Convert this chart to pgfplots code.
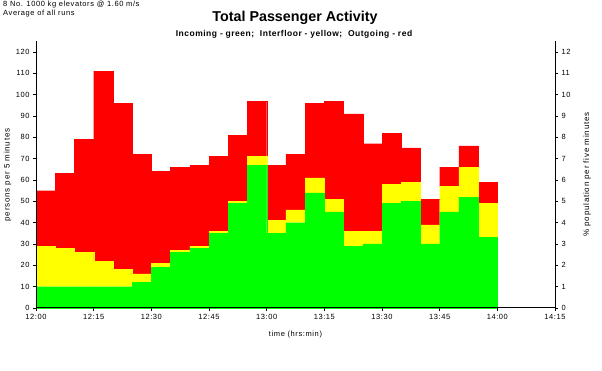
\documentclass[border=0pt]{standalone}
\usepackage{pgfplots}
\pgfplotsset{compat=1.18}
\usepackage{pgfplotstable}
\usepackage{fontspec}
\setmainfont{Liberation Sans}
\newfontfamily\wa[LetterSpace=8]{Liberation Sans}
\newfontfamily\wb[LetterSpace=10]{Liberation Sans}
\newfontfamily\wc[LetterSpace=6]{Liberation Sans}
\definecolor{cgreen}{RGB}{0,255,0}
\definecolor{cyellow}{RGB}{255,255,0}
\definecolor{cred}{RGB}{255,0,0}
\pgfplotstableread{
x g y r
2.5 10 19 26
7.5 10 18 35
12.5 10 16 53
17.5 10 12 89
22.5 10 8 78
27.5 12 4 56
32.5 19 2 43
37.5 26 1 39
42.5 28 1 38
47.5 35 1 35
52.5 49 1 31
57.5 67 4 26
62.5 35 6 26
67.5 40 6 26
72.5 54 7 35
77.5 45 6 46
82.5 29 7 55
87.5 30 6 41
92.5 49 9 24
97.5 50 9 16
102.5 30 9 12
107.5 45 12 9
112.5 52 14 10
117.5 33 16 10
}\data
\begin{document}
\begin{tikzpicture}
\path[use as bounding box] (0,0) rectangle (602pt,371pt);
\begin{axis}[
  at={(36pt,63pt)}, anchor=south west,
  scale only axis, width=519pt, height=266.7pt,
  xmin=0, xmax=135, ymin=0, ymax=125,
  axis x line*=bottom, axis y line*=left,
  axis on top,
  axis line style={-, line width=1pt},
  tick align=outside, major tick length=3pt,
  tick style={black, line width=0.6pt},
  xtick={0,15,...,135},
  xticklabels={12:00,12:15,12:30,12:45,13:00,13:15,13:30,13:45,14:00,14:15},
  ytick={0,10,...,120},
  tick label style={font=\wa\fontsize{7.5}{8}\selectfont},
  /pgf/number format/assume math mode=true,
  ybar stacked, bar width=5, bar shift=0pt,
  clip=false,
]
\addplot[fill=cgreen, draw=cgreen, line width=0.2pt] table[x=x,y=g]{\data};
\addplot[fill=cyellow, draw=cyellow, line width=0.2pt] table[x=x,y=y]{\data};
\addplot[fill=cred, draw=cred, line width=0.2pt] table[x=x,y=r]{\data};
\end{axis}
\begin{axis}[
  at={(36pt,63pt)}, anchor=south west,
  scale only axis, width=519pt, height=266.7pt,
  xmin=0, xmax=135, ymin=0, ymax=12.5,
  hide x axis,
  axis y line*=right,
  axis line style={-, line width=1pt},
  tick align=outside, major tick length=3pt,
  tick style={black, line width=0.6pt},
  ytick={0,1,...,12},
  tick label style={font=\wa\fontsize{7.5}{8}\selectfont},
  /pgf/number format/assume math mode=true,
]
\addplot[draw=none] coordinates {(0,0)};
\end{axis}
\node[anchor=west, inner sep=0pt, font=\wa\fontsize{7.5}{8}\selectfont] at (3pt,366.5pt) {8 No. 1000 kg elevators @ 1.60 m/s};
\node[anchor=west, inner sep=0pt, font=\wa\fontsize{7.5}{8}\selectfont] at (3pt,357pt) {Average of all runs};
\node[font=\fontsize{14.3}{16}\selectfont\bfseries] at (295pt,352.7pt) {Total Passenger Activity};
\node[font=\wc\fontsize{8.5}{9}\selectfont\bfseries] at (294pt,336.3pt) {Incoming - green;\ \ Interfloor - yellow;\ \ Outgoing - red};
\node[rotate=90, font=\wb\fontsize{8}{9}\selectfont] at (7.5pt,196pt) {persons per 5 minutes};
\node[rotate=90, font=\wb\fontsize{8}{9}\selectfont] at (587pt,196.5pt) {\% population per five minutes};
\node[font=\wa\fontsize{7.5}{8}\selectfont] at (295.5pt,36pt) {time (hrs:min)};
\end{tikzpicture}
\end{document}
